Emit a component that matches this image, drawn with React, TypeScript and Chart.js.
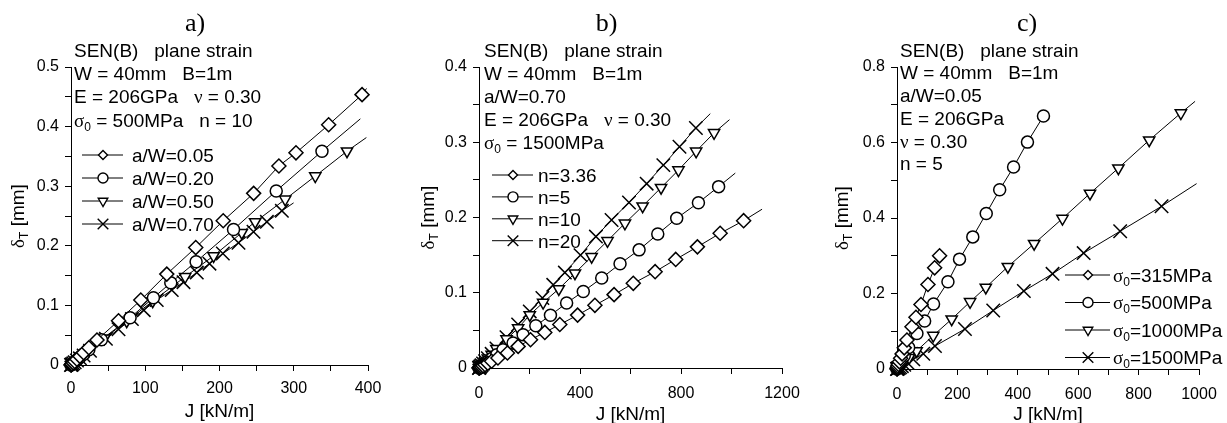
import React, { useEffect, useRef } from "react";
import { Chart, registerables } from "chart.js";
Chart.register(...registerables);

// ---------- Panel a) ----------
const aTitle = "a)";
const aInfo = ["SEN(B)   plane strain", "W = 40mm   B=1m", "E = 206GPa   ν = 0.30", "σ_0 = 500MPa   n = 10"];
const aLabels = ["a/W=0.05", "a/W=0.20", "a/W=0.50", "a/W=0.70"];
const aJ005 = [0, 0.5, 1.5, 3, 5, 8, 12, 17, 24, 35, 64, 94, 129, 168, 205, 246, 280, 303, 347, 392, 398];
const aD005 = [0, 0.0006, 0.0018, 0.0036, 0.006, 0.0097, 0.0145, 0.0205, 0.029, 0.042, 0.0743, 0.109, 0.1525, 0.197, 0.242, 0.288, 0.334, 0.356, 0.403, 0.4536, 0.464];
const aJ020 = [0, 0.5, 1.5, 3, 5, 8, 12, 17, 24, 41, 79.6, 111, 134.4, 168.5, 218.9, 276.4, 338, 389.7];
const aD020 = [0, 0.0005, 0.0016, 0.0032, 0.0053, 0.0085, 0.0128, 0.018, 0.0255, 0.0425, 0.0793, 0.1128, 0.138, 0.1732, 0.2274, 0.292, 0.3587, 0.413];
const aJ050 = [0, 0.5, 1.5, 3, 5, 8, 12, 17, 24, 45, 75, 110, 153.7, 192, 230, 248, 288.5, 329, 371.7, 397.8];
const aD050 = [0, 0.0005, 0.0015, 0.003, 0.005, 0.008, 0.012, 0.017, 0.024, 0.045, 0.0735, 0.107, 0.148, 0.183, 0.222, 0.24, 0.278, 0.317, 0.3587, 0.3816];
const aJ070 = [0, 0.5, 1.5, 3, 5, 8, 12, 17, 25.6, 47, 64, 82, 98, 115.5, 135.7, 151.5, 169.4, 186.5, 204.5, 225.6, 245.8, 263.8, 284, 299.8];
const aD070 = [0, 0.0005, 0.0014, 0.0028, 0.0047, 0.0075, 0.0112, 0.016, 0.024, 0.044, 0.06, 0.077, 0.092, 0.1089, 0.1257, 0.139, 0.155, 0.17, 0.187, 0.205, 0.2235, 0.2402, 0.2587, 0.272];

// ---------- Panel b) ----------
const bTitle = "b)";
const bInfo = ["SEN(B)   plane strain", "W = 40mm   B=1m", "a/W=0.70", "E = 206GPa   ν = 0.30", "σ_0 = 1500MPa"];
const bLabels = ["n=3.36", "n=5", "n=10", "n=20"];
const bJn336 = [0, 1, 3, 6, 10, 16, 24, 35, 50, 75, 112.6, 155, 204, 260.6, 320, 390.5, 459, 535, 611, 697.5, 779, 865, 955, 1048, 1121];
const bDn336 = [0, 0.0002, 0.0005, 0.0011, 0.0018, 0.0029, 0.0043, 0.0062, 0.0089, 0.0133, 0.02, 0.0287, 0.0376, 0.0473, 0.0578, 0.0703, 0.0833, 0.0975, 0.1125, 0.128, 0.1443, 0.161, 0.179, 0.1958, 0.211];
const bJn5 = [0, 1, 3, 6, 10, 16, 24, 35, 50, 70, 95, 135, 174.7, 225, 283, 347, 413, 486, 558.6, 634, 708, 783, 869, 949, 1015];
const bDn5 = [0, 0.00025, 0.00075, 0.0015, 0.0025, 0.004, 0.006, 0.0088, 0.0125, 0.0175, 0.0243, 0.0332, 0.0442, 0.0562, 0.07, 0.0863, 0.1017, 0.1195, 0.1385, 0.157, 0.178, 0.199, 0.2197, 0.241, 0.259];
const bJn10 = [0, 1, 3, 6, 10, 16, 24, 35, 50, 69, 109, 155, 201, 254, 316, 380, 446, 509, 578, 648, 721, 790, 860, 931, 992];
const bDn10 = [0, 0.0004, 0.0011, 0.0022, 0.0037, 0.0059, 0.0088, 0.0128, 0.018, 0.0255, 0.0385, 0.053, 0.0705, 0.087, 0.105, 0.126, 0.148, 0.169, 0.1923, 0.215, 0.2396, 0.263, 0.288, 0.3125, 0.33];
const bJn20 = [0, 1, 3, 6, 10, 16, 24, 35, 50, 69, 108.8, 155, 201, 251, 294, 340, 402, 463, 525, 594, 664, 730, 794, 859, 916];
const bDn20 = [0, 0.0004, 0.0011, 0.0023, 0.0038, 0.006, 0.009, 0.013, 0.0188, 0.026, 0.041, 0.0578, 0.0752, 0.093, 0.1105, 0.1268, 0.15, 0.1746, 0.1967, 0.22, 0.245, 0.2696, 0.294, 0.319, 0.338];

// ---------- Panel c) ----------
const cTitle = "c)";
const cInfo = ["SEN(B)   plane strain", "W = 40mm   B=1m", "a/W=0.05", "E = 206GPa", "ν = 0.30", "n = 5"];
const cLabels = ["σ_0=315MPa", "σ_0=500MPa", "σ_0=1000MPa", "σ_0=1500MPa"];
const cJs315 = [0, 0.5, 1.5, 3, 5, 8, 12, 17, 24, 33, 49.6, 62.8, 79.4, 102.5, 124.6, 141];
const cDs315 = [0, 0.0012, 0.0036, 0.0072, 0.012, 0.019, 0.0285, 0.04, 0.056, 0.0767, 0.112, 0.137, 0.171, 0.224, 0.268, 0.2998];
const cJs500 = [0, 1, 3, 6, 10, 16, 24, 38.6, 66, 91.5, 121, 168.7, 207, 251, 295.5, 340, 386, 432, 485];
const cDs500 = [0, 0.0015, 0.0045, 0.009, 0.015, 0.024, 0.035, 0.057, 0.094, 0.127, 0.172, 0.231, 0.291, 0.35, 0.412, 0.475, 0.535, 0.601, 0.67];
const cJs1000 = [0, 1, 3, 6, 10, 16, 24, 40, 65, 120, 181, 242, 294, 367, 454, 548, 639, 733, 835, 940, 987];
const cDs1000 = [0, 0.00075, 0.0023, 0.0045, 0.0075, 0.012, 0.018, 0.03, 0.048, 0.0885, 0.132, 0.178, 0.216, 0.271, 0.332, 0.3986, 0.465, 0.532, 0.606, 0.678, 0.709];
const cJs1500 = [0, 1, 3, 6, 10, 16, 24, 35, 54, 87, 125.7, 225, 318.6, 420, 515, 618, 739, 876, 992];
const cDs1500 = [0, 0.00047, 0.0014, 0.0028, 0.0047, 0.0075, 0.0113, 0.0165, 0.0255, 0.0405, 0.0608, 0.106, 0.155, 0.2065, 0.252, 0.307, 0.365, 0.431, 0.491];

const xAxisTitle = "J [kN/m]";
const yAxisTitle = "δ_T [mm]";

const SANS = "'Liberation Sans', Arial, sans-serif";
const SERIF = "'Liberation Serif', 'Times New Roman', serif";

type Marker = "diamond" | "circle" | "triangle" | "cross";
const MARK: Record<Marker, { style: string; rot: number; r: number; lr: number }> = {
  diamond: { style: "rectRot", rot: 0, r: 7, lr: 4.5 },
  circle: { style: "circle", rot: 0, r: 6, lr: 5 },
  triangle: { style: "triangle", rot: 180, r: 6.5, lr: 5.5 },
  cross: { style: "crossRot", rot: 0, r: 9.5, lr: 7.5 },
};
const MARKERS: Marker[] = ["diamond", "circle", "triangle", "cross"];

type Series = { label: string; j: number[]; d: number[]; marker: Marker; ext: boolean };

type PanelCfg = {
  left: number; width: number; yAxisW: number; padRight: number; xAxisH: number;
  xMax: number; xStep: number; xLabelStep: number;
  yMax: number; yStep: number; yLabelStep: number; xTickPad: number;
  title: string; titleX: number;
  info: string[]; infoX: number; infoY0: number; infoDy: number;
  legend: { x1: number; x2: number; xm: number; xt: number; y0: number; dy: number };
  yTitleX: number; xTitleY: number;
  series: Series[];
};

const mk = (labels: string[], js: number[][], ds: number[][], ext: boolean[]): Series[] =>
  labels.map((label, i) => ({ label, j: js[i], d: ds[i], marker: MARKERS[i], ext: ext[i] }));

const PANELS: PanelCfg[] = [
  {
    left: 0, width: 410, yAxisW: 71, padRight: 42, xAxisH: 58,
    xMax: 400, xStep: 50, xLabelStep: 100, yMax: 0.5, yStep: 0.05, yLabelStep: 0.1, xTickPad: 8,
    title: aTitle, titleX: 195, info: aInfo, infoX: 74, infoY0: 56.7, infoDy: 23.3,
    legend: { x1: 82, x2: 123, xm: 103, xt: 132, y0: 155, dy: 23 },
    yTitleX: 17, xTitleY: 410,
    series: mk(aLabels, [aJ005, aJ020, aJ050, aJ070], [aD005, aD020, aD050, aD070], [true, true, true, true]),
  },
  {
    left: 410, width: 407, yAxisW: 69, padRight: 35, xAxisH: 55,
    xMax: 1200, xStep: 200, xLabelStep: 400, yMax: 0.4, yStep: 0.05, yLabelStep: 0.1, xTickPad: 10,
    title: bTitle, titleX: 606.7, info: bInfo, infoX: 484, infoY0: 56.7, infoDy: 23.1,
    legend: { x1: 492, x2: 533, xm: 513, xt: 538, y0: 175, dy: 21.9 },
    yTitleX: 427, xTitleY: 413,
    series: mk(bLabels, [bJn336, bJn5, bJn10, bJn20], [bDn336, bDn5, bDn10, bDn20], [true, true, true, true]),
  },
  {
    left: 817, width: 410, yAxisW: 80, padRight: 28, xAxisH: 54,
    xMax: 1000, xStep: 100, xLabelStep: 200, yMax: 0.8, yStep: 0.1, yLabelStep: 0.2, xTickPad: 10,
    title: cTitle, titleX: 1027, info: cInfo, infoX: 900, infoY0: 56.7, infoDy: 22.7,
    legend: { x1: 1065, x2: 1110, xm: 1088, xt: 1113, y0: 275, dy: 27.5 },
    yTitleX: 841, xTitleY: 413,
    series: mk(cLabels, [cJs315, cJs500, cJs1000, cJs1500], [cDs315, cDs500, cDs1000, cDs1500], [false, false, true, true]),
  },
];

function drawRich(ctx: CanvasRenderingContext2D, text: string, x: number, y: number, size: number, align: "left" | "center") {
  const parts: { t: string; kind: "plain" | "greek" | "sub" }[] = [];
  for (let i = 0; i < text.length; i++) {
    const ch = text[i];
    if (ch === "_") {
      parts.push({ t: text[i + 1], kind: "sub" });
      i++;
    } else if ("σνδ".includes(ch)) {
      parts.push({ t: ch, kind: "greek" });
    } else {
      const last = parts[parts.length - 1];
      if (last && last.kind === "plain") last.t += ch;
      else parts.push({ t: ch, kind: "plain" });
    }
  }
  const fontOf = (k: string) =>
    k === "greek" ? `${size}px ${SERIF}` : k === "sub" ? `${Math.round(size * 0.62)}px ${SANS}` : `${size}px ${SANS}`;
  let total = 0;
  for (const p of parts) {
    ctx.font = fontOf(p.kind);
    total += ctx.measureText(p.t).width;
  }
  let cx = align === "center" ? x - total / 2 : x;
  ctx.textAlign = "left";
  ctx.textBaseline = "alphabetic";
  for (const p of parts) {
    ctx.font = fontOf(p.kind);
    const yy = p.kind === "sub" ? y + size * 0.22 : y;
    ctx.fillText(p.t, cx, yy);
    cx += ctx.measureText(p.t).width;
  }
}

function drawMarker(ctx: CanvasRenderingContext2D, m: Marker, x: number, y: number, r: number) {
  ctx.beginPath();
  if (m === "diamond") {
    ctx.moveTo(x - r, y); ctx.lineTo(x, y - r); ctx.lineTo(x + r, y); ctx.lineTo(x, y + r); ctx.closePath();
  } else if (m === "circle") {
    ctx.arc(x, y, r, 0, Math.PI * 2);
  } else if (m === "triangle") {
    ctx.moveTo(x, y + r); ctx.lineTo(x - 0.866 * r, y - 0.5 * r); ctx.lineTo(x + 0.866 * r, y - 0.5 * r); ctx.closePath();
  } else {
    const o = 0.7071 * r;
    ctx.moveTo(x - o, y - o); ctx.lineTo(x + o, y + o);
    ctx.moveTo(x + o, y - o); ctx.lineTo(x - o, y + o);
  }
  if (m !== "cross") { ctx.fillStyle = "#fff"; ctx.fill(); }
  ctx.stroke();
}

function makeTextPlugin(cfg: PanelCfg) {
  return {
    id: "panelText",
    afterDraw(chart: any) {
      const ctx: CanvasRenderingContext2D = chart.ctx;
      const L = cfg.left;
      const ca = chart.chartArea;
      ctx.save();
      ctx.fillStyle = "#000";
      // panel title
      ctx.font = `26px ${SERIF}`;
      ctx.textAlign = "center";
      ctx.textBaseline = "alphabetic";
      ctx.fillText(cfg.title, cfg.titleX - L, 31);
      // info lines
      cfg.info.forEach((line, i) => drawRich(ctx, line, cfg.infoX - L, cfg.infoY0 + i * cfg.infoDy, 19, "left"));
      // x title
      drawRich(ctx, xAxisTitle, (ca.left + ca.right) / 2, cfg.xTitleY + 6.8, 19, "center");
      // y title
      ctx.save();
      ctx.translate(cfg.yTitleX - L, (ca.top + ca.bottom) / 2);
      ctx.rotate(-Math.PI / 2);
      drawRich(ctx, yAxisTitle, 0, 6.8, 19, "center");
      ctx.restore();
      // legend
      const lg = cfg.legend;
      cfg.series.forEach((s, i) => {
        const y = lg.y0 + i * lg.dy;
        ctx.strokeStyle = "#000";
        ctx.lineWidth = 1;
        ctx.beginPath();
        ctx.moveTo(lg.x1 - L, y);
        ctx.lineTo(lg.x2 - L, y);
        ctx.stroke();
        ctx.lineWidth = 1.4;
        drawMarker(ctx, s.marker, lg.xm - L, y, MARK[s.marker].lr);
        ctx.fillStyle = "#000";
        drawRich(ctx, s.label, lg.xt - L, y + 6.8, 19, "left");
      });
      ctx.restore();
    },
  };
}

const fmt = (v: number) => String(Number(v.toFixed(3)));
const isMajor = (v: number, step: number) => {
  const k = v / step;
  return Math.abs(k - Math.round(k)) < 1e-6;
};

function Panel({ cfg }: { cfg: PanelCfg }) {
  const ref = useRef<HTMLCanvasElement>(null);
  useEffect(() => {
    const canvas = ref.current!;
    const axisCommon = (step: number, labelStep: number, pad: number) => ({
      type: "linear" as const,
      min: 0,
      ticks: {
        stepSize: step,
        autoSkip: false,
        maxRotation: 0,
        minRotation: 0,
        padding: pad,
        color: "#000",
        font: { family: SANS, size: 16 },
        callback: (v: any) => (isMajor(Number(v), labelStep) ? fmt(Number(v)) : ""),
      },
      grid: { display: true, drawOnChartArea: false, drawTicks: true, tickLength: 6, color: "#000", lineWidth: 1 },
      border: { display: true, color: "#000", width: 1 },
    });
    const chart = new Chart(canvas, {
      type: "scatter",
      data: {
        datasets: cfg.series.map((s) => ({
          label: s.label,
          data: s.j.map((x, i) => ({ x, y: s.d[i] })),
          showLine: true,
          borderColor: "#000",
          borderWidth: 1,
          pointStyle: MARK[s.marker].style as any,
          pointRotation: MARK[s.marker].rot,
          pointRadius: (c: any) => (s.ext && c.dataIndex === s.j.length - 1 ? 0 : MARK[s.marker].r),
          pointHoverRadius: (c: any) => (s.ext && c.dataIndex === s.j.length - 1 ? 0 : MARK[s.marker].r),
          pointBackgroundColor: "#fff",
          pointBorderColor: "#000",
          pointBorderWidth: 1.5,
          tension: 0,
          clip: false as any,
        })),
      },
      options: {
        responsive: false,
        animation: false,
        devicePixelRatio: 1,
        events: [],
        layout: { padding: { top: 67, right: cfg.padRight, left: 0, bottom: 0 } },
        plugins: { legend: { display: false }, tooltip: { enabled: false } },
        scales: {
          x: {
            ...axisCommon(cfg.xStep, cfg.xLabelStep, cfg.xTickPad),
            max: cfg.xMax,
            afterFit: (sc: any) => { sc.height = cfg.xAxisH; },
          },
          y: {
            ...axisCommon(cfg.yStep, cfg.yLabelStep, 6),
            max: cfg.yMax,
            afterFit: (sc: any) => { sc.width = cfg.yAxisW; },
          },
        },
      } as any,
      plugins: [makeTextPlugin(cfg)],
    });
    return () => chart.destroy();
  }, [cfg]);
  return (
    <canvas
      ref={ref}
      width={cfg.width}
      height={423}
      style={{ position: "absolute", left: cfg.left, top: 0, width: cfg.width, height: 423 }}
    />
  );
}

export default function App() {
  return (
    <div style={{ position: "fixed", left: 0, top: 0, width: 1227, height: 423, background: "#fff", overflow: "hidden" }}>
      {PANELS.map((p) => (
        <Panel key={p.title} cfg={p} />
      ))}
    </div>
  );
}
